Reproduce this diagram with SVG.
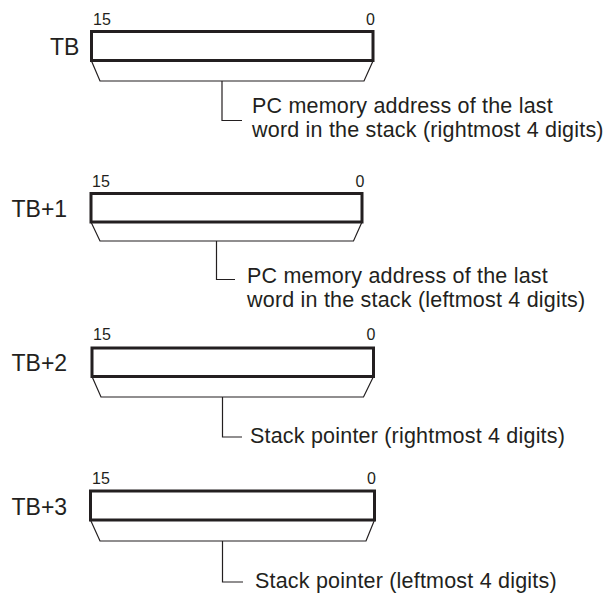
<svg xmlns="http://www.w3.org/2000/svg" width="605" height="593" viewBox="0 0 605 593">
<style>
text{font-family:"Liberation Sans",Arial,Helvetica,sans-serif;fill:#231f20}
.reg{fill:#fff;stroke:#231f20;stroke-width:3}
.trap{fill:#fff;stroke:#231f20;stroke-width:1.2}
.ln{fill:none;stroke:#231f20;stroke-width:1.2}
.lbl{font-size:23px}
.bit{font-size:16px}
.desc{font-size:21.5px;letter-spacing:0.2px}
</style>
<rect width="605" height="593" fill="#fff"/>
<g id="tb">
<text class="lbl" x="50" y="55">TB</text>
<text class="bit" x="93" y="25">15</text>
<text class="bit" x="375" y="25" text-anchor="end">0</text>
<polyline class="trap" points="91.5,61 100,81 364,81 373,61"/>
<rect class="reg" x="91.5" y="31.5" width="281.5" height="29"/>
<text class="desc" x="252" y="113">PC memory address of the last</text>
<text class="desc" x="252" y="137">word in the stack (rightmost 4 digits)</text>
</g>
<g id="tb1">
<text class="lbl" x="11.5" y="216.5">TB+1</text>
<text class="bit" x="92" y="186.5">15</text>
<text class="bit" x="364.5" y="186.5" text-anchor="end">0</text>
<polyline class="trap" points="91,222 100,241 353.5,241 362,222"/>
<rect class="reg" x="91" y="193.5" width="271" height="28.5"/>
<text class="desc" x="247" y="283">PC memory address of the last</text>
<text class="desc" x="247" y="307">word in the stack (leftmost 4 digits)</text>
</g>
<g id="tb2">
<text class="lbl" x="11.5" y="371">TB+2</text>
<text class="bit" x="93" y="340">15</text>
<text class="bit" x="375.5" y="340" text-anchor="end">0</text>
<polyline class="trap" points="92,376.5 101,397 363.5,397 373.5,376.5"/>
<rect class="reg" x="92" y="348" width="281.5" height="28.5"/>
<text class="desc" x="250" y="443">Stack pointer (rightmost 4 digits)</text>
</g>
<g id="tb3">
<text class="lbl" x="11.5" y="514.5">TB+3</text>
<text class="bit" x="92" y="483.5">15</text>
<text class="bit" x="376" y="483.5" text-anchor="end">0</text>
<polyline class="trap" points="90.5,520 100,541 366,541 374.5,520"/>
<rect class="reg" x="90.5" y="491" width="284" height="29"/>
<text class="desc" x="255" y="588">Stack pointer (leftmost 4 digits)</text>
</g>
<g id="connectors">
<polyline class="ln" points="222,81 222,120.5 242,120.5"/>
<polyline class="ln" points="216.5,241 216.5,279.5 235,279.5"/>
<polyline class="ln" points="222.5,397 222.5,437 242,437"/>
<polyline class="ln" points="222.5,541 222.5,582 243,582"/>
</g>
</svg>
